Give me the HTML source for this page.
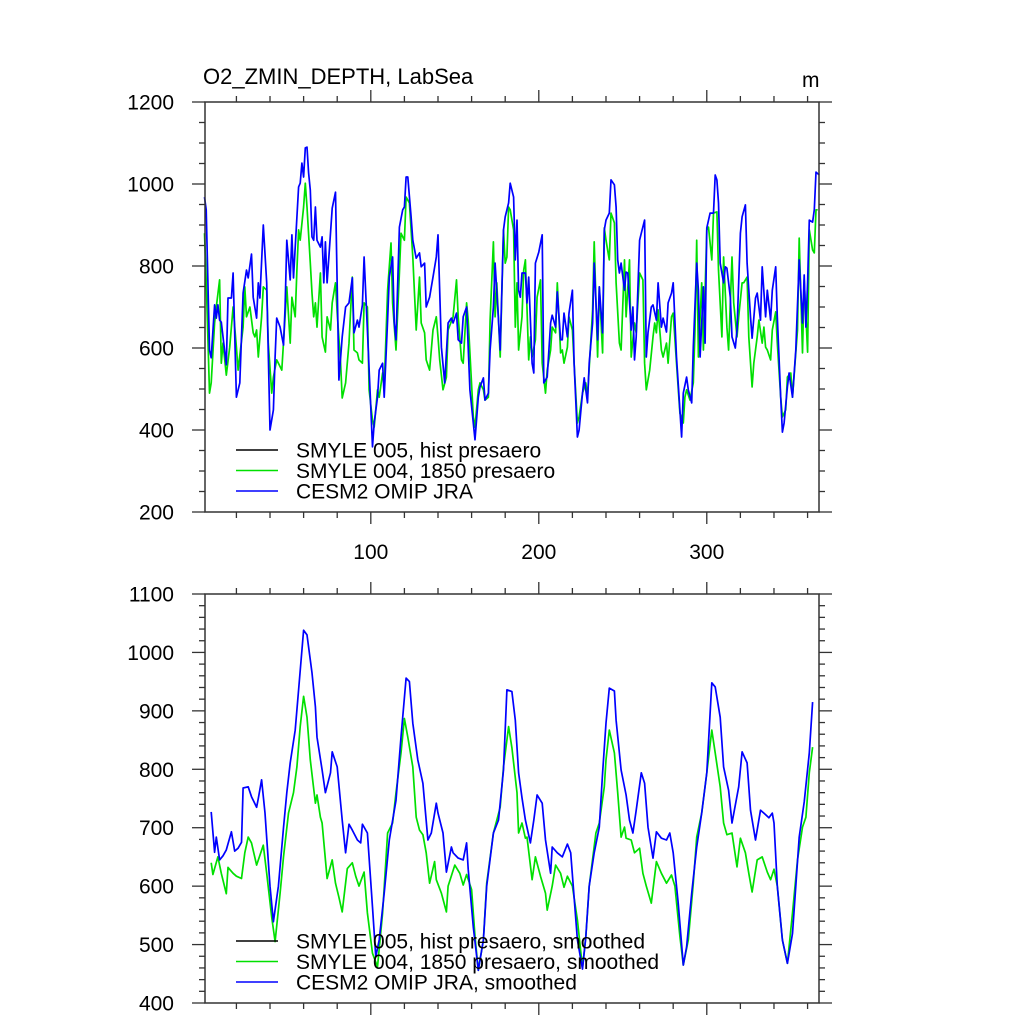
<!DOCTYPE html>
<html><head><meta charset="utf-8"><style>
html,body{margin:0;padding:0;background:#fff;}
svg{display:block;font-family:"Liberation Sans",Arial,sans-serif;}
</style></head><body>
<svg id="chart" width="1024" height="1024" viewBox="0 0 1024 1024" xmlns="http://www.w3.org/2000/svg">
<rect width="1024" height="1024" fill="#fff"/>
<text x="203" y="84" font-size="22">O2_ZMIN_DEPTH, LabSea</text>
<text x="802" y="87" font-size="21">m</text>
<g id="top"></g>
<g id="bot"></g>
</svg>
<script>
const xTicks = [100, 200, 300];
const topYTicks = [200, 400, 600, 800, 1000, 1200];
const botYTicks = [400, 500, 600, 700, 800, 900, 1000, 1100];
const topLegend = ["SMYLE 005, hist presaero", "SMYLE 004, 1850 presaero", "CESM2 OMIP JRA"];
const botLegend = ["SMYLE 005, hist presaero, smoothed", "SMYLE 004, 1850 presaero, smoothed", "CESM2 OMIP JRA, smoothed"];

const topBlue = [[1,968],[2,937],[4,595],[5,576],[7,705],[8,673],[9,705],[10,668],[11,663],[14,559],[15,722],[17,722],[18,783],[20,480],[22,515],[24,734],[26,790],[27,771],[29,829],[30,724],[32,673],[33,759],[34,722],[36,900],[38,759],[40,400],[42,449],[43,578],[44,673],[46,651],[48,607],[49,700],[50,863],[52,766],[53,876],[54,771],[57,993],[58,1002],[59,1051],[60,1017],[61,1088],[62,1090],[63,1027],[64,985],[65,871],[66,863],[67,944],[68,863],[70,846],[71,871],[72,759],[73,859],[74,759],[76,880],[77,941],[79,980],[81,522],[83,627],[85,700],[87,710],[89,771],[90,637],[92,668],[93,651],[95,705],[96,822],[98,644],[101,359],[102,417],[104,480],[105,546],[107,563],[108,480],[110,668],[111,773],[113,822],[114,661],[115,620],[117,895],[119,937],[120,944],[121,1017],[122,1017],[124,920],[125,863],[127,819],[129,832],[130,798],[132,807],[133,700],[135,724],[137,773],[139,822],[140,876],[142,602],[144,515],[146,661],[148,673],[149,661],[151,685],[152,620],[154,612],[155,676],[157,700],[159,498],[161,417],[162,376],[164,480],[165,505],[167,527],[168,473],[170,490],[171,595],[173,700],[174,807],[176,668],[177,595],[179,888],[180,920],[182,954],[183,1002],[185,968],[186,815],[187,912],[188,741],[189,724],[190,783],[192,783],[193,710],[194,773],[196,563],[197,539],[198,807],[200,834],[202,876],[203,515],[205,529],[207,661],[208,680],[210,651],[211,737],[213,620],[214,620],[215,685],[217,627],[218,685],[220,741],[221,563],[223,383],[224,400],[226,490],[227,527],[229,466],[230,563],[232,661],[233,807],[235,620],[236,749],[238,637],[239,888],[240,912],[242,929],[243,1010],[245,998],[246,944],[247,815],[248,783],[249,807],[251,741],[252,785],[253,783],[255,644],[256,700],[257,571],[258,627],[260,863],[261,880],[263,912],[264,578],[265,637],[267,700],[268,705],[270,668],[271,759],[273,651],[274,673],[276,639],[277,710],[279,734],[280,759],[282,578],[284,449],[285,383],[286,490],[288,529],[289,498],[291,466],[292,602],[294,807],[295,741],[296,578],[298,749],[299,612],[300,893],[302,929],[304,929],[305,1022],[306,1010],[307,954],[308,807],[310,759],[311,798],[312,795],[314,724],[315,627],[317,600],[318,644],[320,880],[321,920],[323,949],[324,807],[326,676],[327,624],[329,722],[330,734],[332,668],[333,798],[335,676],[336,741],[338,668],[339,741],[341,798],[342,676],[344,480],[345,395],[346,417],[348,505],[349,539],[351,480],[353,595],[355,815],[357,661],[358,778],[359,651],[360,759],[361,912],[363,907],[364,937],[365,1029],[367,1022]];

const topGreen = [[1,880],[2,766],[4,490],[5,515],[7,661],[8,700],[10,766],[11,563],[12,612],[14,534],[16,602],[18,700],[20,602],[21,546],[24,651],[25,749],[26,676],[28,700],[30,637],[31,627],[32,644],[33,578],[35,676],[36,749],[38,741],[39,612],[41,490],[42,529],[44,571],[45,563],[47,546],[49,676],[50,749],[52,612],[53,724],[55,676],[56,790],[57,888],[58,863],[60,944],[61,1002],[62,944],[64,807],[65,734],[66,676],[67,710],[68,651],[70,783],[71,627],[73,590],[74,676],[76,644],[77,710],[79,759],[80,685],[82,563],[83,478],[85,515],[87,612],[89,773],[90,595],[92,588],[93,571],[95,563],[96,710],[98,700],[99,498],[101,424],[102,407],[104,498],[105,480],[107,539],[108,505],[110,741],[112,856],[113,710],[115,595],[117,783],[118,880],[120,863],[121,968],[123,954],[125,822],[127,644],[129,773],[130,661],[132,637],[133,571],[135,546],[137,644],[139,676],[140,627],[141,571],[143,498],[145,529],[146,644],[149,676],[151,766],[152,676],[154,571],[155,563],[157,710],[158,668],[161,432],[162,407],[164,498],[165,515],[167,498],[168,473],[170,480],[171,668],[173,859],[174,676],[175,759],[177,578],[179,888],[180,807],[181,822],[182,944],[183,937],[185,888],[186,651],[187,759],[188,595],[190,676],[191,790],[192,815],[194,571],[195,627],[196,578],[198,620],[199,724],[201,766],[202,563],[204,490],[205,546],[207,595],[208,651],[210,637],[211,759],[213,588],[214,595],[215,563],[217,602],[218,676],[220,644],[221,563],[223,417],[224,432],[226,490],[228,515],[229,480],[232,693],[233,859],[235,578],[236,749],[238,588],[239,893],[240,863],[242,815],[243,929],[245,905],[246,759],[248,612],[249,595],[251,815],[252,676],[254,815],[255,578],[257,661],[258,637],[260,783],[262,766],[263,563],[264,498],[266,546],[268,627],[269,661],[270,637],[271,693],[273,595],[274,578],[276,612],[277,563],[279,676],[280,685],[282,563],[284,441],[286,417],[287,480],[288,498],[290,473],[292,515],[293,644],[294,863],[295,578],[297,759],[298,595],[300,888],[301,895],[303,815],[304,929],[306,932],[307,790],[309,627],[310,822],[312,651],[313,595],[315,822],[316,710],[318,627],[319,676],[321,759],[322,759],[324,773],[325,627],[327,505],[328,563],[330,627],[331,668],[333,612],[334,651],[335,602],[336,595],[338,571],[339,644],[341,688],[342,612],[344,480],[345,432],[347,449],[348,529],[350,539],[351,480],[354,644],[355,868],[357,588],[358,766],[360,590],[361,888],[363,839],[364,832],[365,937],[366,937]];

const botBlue = [[5,727],[7,658],[8,684],[10,645],[12,652],[14,662],[17,693],[19,660],[21,665],[23,675],[24,768],[27,770],[29,753],[32,735],[33,750],[35,782],[37,725],[40,600],[42,539],[45,600],[48,700],[50,760],[52,811],[55,867],[57,936],[60,1038],[62,1030],[65,965],[67,907],[68,855],[71,799],[73,760],[76,794],[77,830],[80,804],[83,713],[85,657],[87,706],[89,696],[92,679],[94,674],[95,706],[98,691],[101,564],[103,479],[105,508],[108,588],[111,679],[115,747],[118,855],[121,956],[123,950],[125,879],[128,816],[131,776],[134,679],[136,691],[139,742],[140,725],[143,691],[145,624],[148,667],[149,657],[152,648],[155,645],[157,674],[158,629],[161,530],[164,456],[167,508],[169,600],[173,691],[176,713],[179,799],[181,936],[184,933],[186,884],[188,794],[190,751],[192,713],[195,674],[197,713],[199,756],[202,742],[204,679],[207,622],[208,667],[211,657],[214,650],[217,672],[219,657],[221,581],[223,508],[226,458],[228,513],[230,600],[233,657],[236,701],[238,794],[240,879],[242,939],[245,934],[246,884],[249,799],[252,756],[254,713],[256,691],[258,730],[261,794],[263,776],[265,701],[268,648],[270,693],[273,682],[276,679],[278,691],[280,657],[283,571],[286,465],[288,496],[291,588],[294,667],[297,725],[300,794],[303,948],[305,941],[308,889],[310,804],[313,764],[315,708],[319,770],[321,830],[324,811],[326,730],[329,679],[332,730],[334,725],[337,717],[339,725],[340,708],[342,600],[345,508],[348,468],[351,519],[353,600],[355,684],[358,744],[361,828],[363,915]];

const botGreen = [[5,640],[6,620],[9,650],[11,622],[14,587],[15,632],[18,622],[20,617],[23,613],[25,657],[27,684],[29,674],[32,636],[36,670],[38,622],[41,547],[43,505],[46,588],[48,650],[51,725],[54,760],[56,804],[58,873],[60,925],[62,889],[64,816],[67,742],[68,756],[70,718],[71,708],[74,613],[77,645],[79,605],[81,581],[83,556],[86,630],[89,640],[91,617],[93,600],[96,624],[98,554],[101,485],[104,462],[107,554],[110,691],[113,708],[115,760],[118,828],[120,887],[122,855],[125,804],[127,718],[129,696],[131,688],[133,657],[135,605],[138,642],[139,611],[142,588],[145,556],[146,600],[150,636],[153,622],[155,602],[157,620],[160,594],[162,514],[164,456],[167,508],[169,605],[173,691],[177,735],[179,804],[182,873],[184,837],[187,760],[188,691],[190,708],[192,682],[193,684],[196,611],[198,650],[201,617],[204,588],[205,559],[208,600],[210,636],[213,622],[215,598],[217,617],[220,600],[223,542],[226,460],[228,513],[230,600],[234,691],[236,708],[239,770],[240,816],[242,867],[245,828],[247,760],[249,684],[251,701],[252,682],[255,679],[257,657],[260,665],[262,622],[264,600],[267,571],[270,642],[273,622],[276,605],[279,619],[281,600],[284,514],[286,465],[289,508],[292,605],[294,684],[297,725],[300,794],[303,867],[305,828],[308,770],[310,708],[312,688],[315,691],[318,633],[320,682],[323,657],[325,622],[327,590],[330,645],[333,650],[336,624],[338,611],[340,629],[342,600],[345,508],[348,468],[351,554],[354,645],[357,701],[359,718],[361,794],[363,838]];

const NS = "http://www.w3.org/2000/svg";
const X0 = 205, X1 = 819;
const xmin = 1.3, xmax = 366.8;
function xs(v){ return X0 + (v - xmin) / (xmax - xmin) * (X1 - X0); }

function mk(tag, attrs, parent){
  const e = document.createElementNS(NS, tag);
  for (const k in attrs) e.setAttribute(k, attrs[k]);
  parent.appendChild(e);
  return e;
}

function panel(g, Y0, Y1, ymin, ymax, yTicks, yMinorStep, showXLabels, series, legend, legY){
  const ys = v => Y1 - (v - ymin) / (ymax - ymin) * (Y1 - Y0);
  const col = "#333";
  for (let t = 20; t < xmax; t += 20){
    const major = (t % 100 === 0);
    const L = major ? 12 : 6;
    const px = xs(t);
    const tb = mk("line", {x1:px, x2:px, y1:Y1, y2:Y1+L, stroke:col, "stroke-width":1.3}, g);
    
    
    const tt = mk("line", {x1:px, x2:px, y1:Y0, y2:Y0-L, stroke:col, "stroke-width":1.3}, g);
    
    
  }
  if (showXLabels){
    xTicks.forEach(t => {
      const tx = mk("text", {x:xs(t), y:Y1+47, "font-size":21, "text-anchor":"middle", fill:"#000"}, g);
      tx.textContent = t;
      
      
    });
  }
  for (let v = ymin; v <= ymax + 0.01; v += yMinorStep){
    const isMajor = yTicks.indexOf(Math.round(v)) >= 0;
    const L = isMajor ? 13 : 6;
    const py = ys(v);
    const l1 = mk("line", {x1:X0-L, x2:X0, y1:py, y2:py, stroke:col, "stroke-width":1.3}, g);
    
    
    const l2 = mk("line", {x1:X1, x2:X1+L, y1:py, y2:py, stroke:col, "stroke-width":1.3}, g);
    
    
  }
  yTicks.forEach(t => {
    const tx = mk("text", {x:174, y:ys(t)+7.5, "font-size":21, "text-anchor":"end", fill:"#000"}, g);
    tx.textContent = t;
    
    
  });
  series.forEach(s => {
    const d = s.data.map((p,i) => (i ? "L" : "M") + xs(p[0]).toFixed(1) + "," + ys(p[1]).toFixed(1)).join("");
    const path = mk("path", {d:d, fill:"none", stroke:s.color, "stroke-width":1.7, "stroke-linejoin":"round"}, g);
    
    
  });
  const fr = mk("rect", {x:X0, y:Y0, width:X1-X0, height:Y1-Y0, fill:"none", stroke:col, "stroke-width":1.5}, g);
  
  
  const colors = ["#000", "#00e000", "#0000ff"];
  legend.forEach((lab, i) => {
    const y = legY + i * 20.5;
    const ln = mk("line", {x1:236, x2:278, y1:y, y2:y, stroke:colors[i], "stroke-width":1.5}, g);
    
    
    const tx = mk("text", {x:296, y:y+7.5, "font-size":21, fill:"#000"}, g);
    tx.textContent = lab;
    
    
  });
}

panel(document.getElementById("top"), 102, 512, 200, 1200, topYTicks, 50, true,
  [{data: topGreen, color: "#00e000", name: "smyle004-raw-line"},
   {data: topBlue, color: "#0000ff", name: "cesm2-omip-raw-line"}],
  topLegend, 450);
panel(document.getElementById("bot"), 594, 1003, 400, 1100, botYTicks, 20, false,
  [{data: botGreen, color: "#00e000", name: "smyle004-smoothed-line"},
   {data: botBlue, color: "#0000ff", name: "cesm2-omip-smoothed-line"}],
  botLegend, 941);
</script>
</body></html>
